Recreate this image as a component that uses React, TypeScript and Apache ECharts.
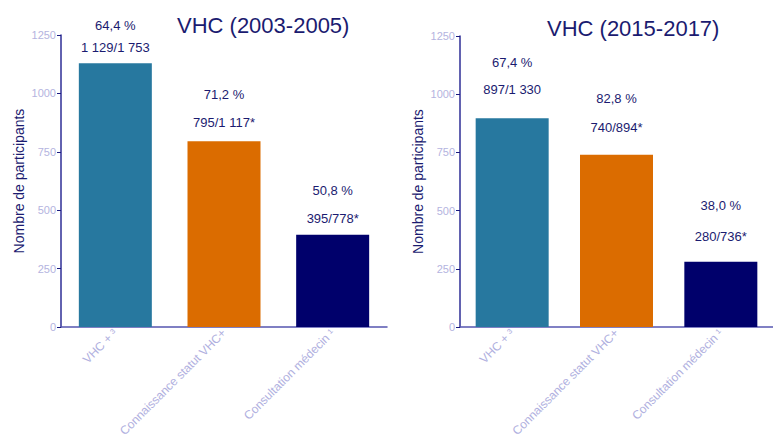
import React, { useEffect, useRef } from "react";
import * as echarts from "echarts";

const categories = ["VHC + ³", "Connaissance statut VHC+", "Consultation médecin ¹"];
const titleLeft = "VHC (2003-2005)";
const titleRight = "VHC (2015-2017)";
const valuesLeft = [1129, 795, 395];
const valuesRight = [897, 740, 280];
const pctLeft = ["64,4 %", "71,2 %", "50,8 %"];
const fracLeft = ["1 129/1 753", "795/1 117*", "395/778*"];
const pctRight = ["67,4 %", "82,8 %", "38,0 %"];
const fracRight = ["897/1 330", "740/894*", "280/736*"];
const yTicks = { min: 0, max: 1250, interval: 250 };
const yName = "Nombre de participants";

const barColors = ["#27789f", "#db6c00", "#00006b"];
// label layout (line height, distance) per bar
const labelLayoutLeft = [
  [22, 5],
  [28, 5],
  [28, 2],
];
const labelLayoutRight = [
  [27, 15],
  [29, 13],
  [31, 10],
];

const NAVY = "#1b1b70";
const FONT = "Liberation Sans, Arial, sans-serif";

function makeData(values: number[], pct: string[], frac: string[], layout: number[][]) {
  return values.map((v, i) => ({
    value: v,
    itemStyle: { color: barColors[i] },
    label: {
      show: true,
      position: "top",
      distance: layout[i][1],
      formatter: `{a|${pct[i]}}\n{a|${frac[i]}}`,
      rich: {
        a: {
          fontSize: 13,
          fontFamily: FONT,
          color: NAVY,
          lineHeight: layout[i][0],
        },
      },
    },
  }));
}

export default function App() {
  const ref = useRef<HTMLDivElement>(null);
  useEffect(() => {
    if (!ref.current) return;
    const chart = echarts.init(ref.current, undefined, { renderer: "svg" });
    const xAxisCommon = {
      type: "category",
      data: categories,
      axisLine: { lineStyle: { color: "#5656b0", width: 1.5 } },
      axisTick: { alignWithLabel: true, length: 4, lineStyle: { color: "#1a1a80" } },
      axisLabel: {
        rotate: 45,
        interval: 0,
        fontSize: 12,
        fontFamily: FONT,
        color: "#b0b0e0",
        margin: 4,
      },
    };
    const yAxisCommon = {
      type: "value",
      min: yTicks.min,
      max: yTicks.max,
      interval: yTicks.interval,
      name: yName,
      nameLocation: "middle",
      nameGap: 35,
      nameTextStyle: { fontSize: 14, fontFamily: FONT, color: NAVY },
      splitLine: { show: false },
      axisLine: { show: true, lineStyle: { color: "#2e2e96", width: 1.5 } },
      axisTick: { show: true, length: 4, lineStyle: { color: "#1a1a80" } },
      axisLabel: {
        fontSize: 11,
        fontFamily: FONT,
        color: "#b4b4e0",
        margin: 5,
        formatter: (v: number) => String(v),
      },
    };
    chart.setOption({
      animation: false,
      backgroundColor: "#ffffff",
      title: [
        {
          text: titleLeft,
          left: 172,
          top: 9,
          textStyle: { fontSize: 22, fontWeight: "normal", fontFamily: FONT, color: NAVY },
        },
        {
          text: titleRight,
          left: 542,
          top: 12,
          textStyle: { fontSize: 22, fontWeight: "normal", fontFamily: FONT, color: NAVY },
        },
      ],
      grid: [
        { left: 61, top: 35, width: 326, height: 292 },
        { left: 460, top: 36, width: 326, height: 291 },
      ],
      xAxis: [
        { ...xAxisCommon, gridIndex: 0 },
        { ...xAxisCommon, gridIndex: 1 },
      ],
      yAxis: [
        { ...yAxisCommon, gridIndex: 0 },
        { ...yAxisCommon, gridIndex: 1 },
      ],
      series: [
        {
          type: "bar",
          xAxisIndex: 0,
          yAxisIndex: 0,
          barWidth: 73,
          data: makeData(valuesLeft, pctLeft, fracLeft, labelLayoutLeft),
        },
        {
          type: "bar",
          xAxisIndex: 1,
          yAxisIndex: 1,
          barWidth: 73,
          data: makeData(valuesRight, pctRight, fracRight, labelLayoutRight),
        },
      ],
    });
    return () => chart.dispose();
  }, []);
  return (
    <div
      ref={ref}
      style={{ position: "fixed", left: 0, top: 0, width: 773, height: 446, background: "#fff" }}
    />
  );
}
